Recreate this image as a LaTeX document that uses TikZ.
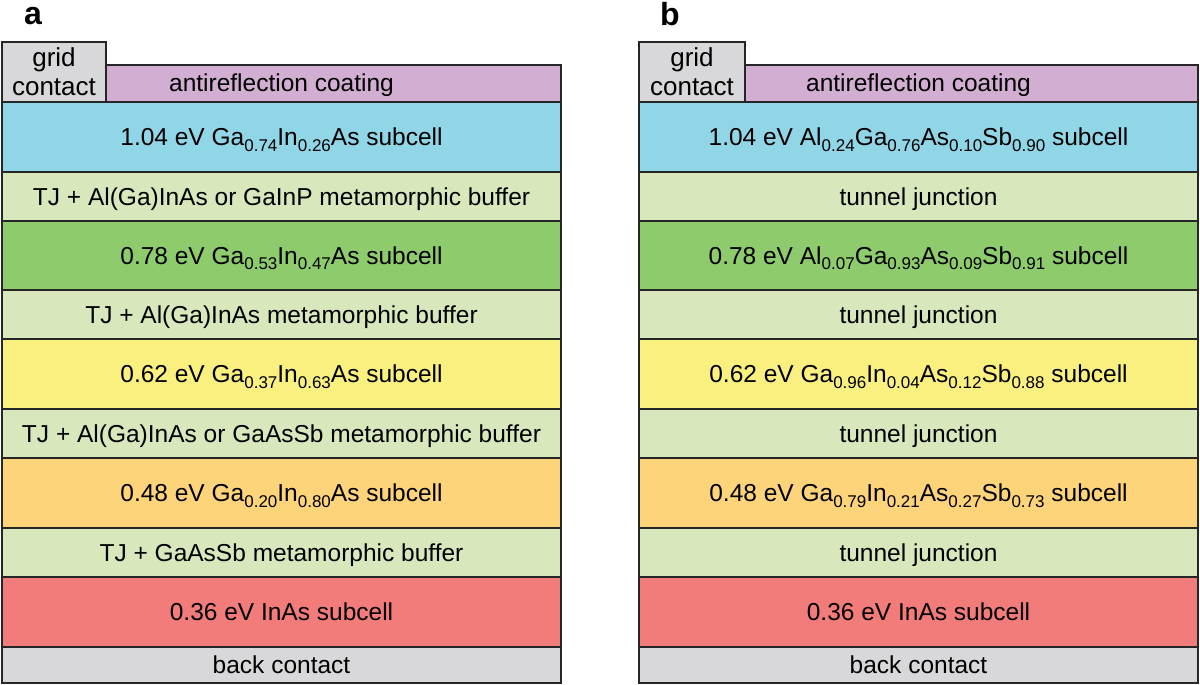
\documentclass[tikz,border=0pt]{standalone}
\usepackage{fontspec}
\setmainfont{Liberation Sans}

\definecolor{contactgray}{RGB}{216,216,218}
\definecolor{arcoat}{RGB}{211,174,211}
\definecolor{cellblue}{RGB}{145,214,230}
\definecolor{tjgreen}{RGB}{216,232,188}
\definecolor{cellgreen}{RGB}{142,203,108}
\definecolor{cellyellow}{RGB}{250,240,128}
\definecolor{cellorange}{RGB}{253,212,122}
\definecolor{cellred}{RGB}{242,124,121}

\newcommand{\low}[1]{\raisebox{-0.45ex}{\fontsize{17}{17}\selectfont #1}}

\begin{document}
\begin{tikzpicture}[x=1pt,y=-1pt,
    box/.style={draw=black!85, line width=1.3pt, inner sep=0pt},
    layertext/.style={inner sep=0pt, text height=22pt, text depth=5pt,
                  font=\fontsize{24.5}{27}\selectfont},
    layer/.style={box, layertext},
    gridbox/.style={box, align=center, font=\fontsize{26}{29}\selectfont},
    panel/.style={font=\fontsize{32}{32}\selectfont\bfseries}]
  \useasboundingbox (0,0) rectangle (1200,685);

  % panel a
  \node[panel] (la) at (33,16) {a};
  \foreach \top/\bot/\col/\txt [count=\i] in {
      102/172/cellblue/{1.04 eV Ga\low{0.74}In\low{0.26}As subcell},
      172/221/tjgreen/{TJ + Al(Ga)InAs or GaInP metamorphic\ buffer},
      221/290/cellgreen/{0.78 eV Ga\low{0.53}In\low{0.47}As subcell},
      290/339/tjgreen/{TJ + Al(Ga)InAs metamorphic\ buffer},
      339/409/cellyellow/{0.62 eV Ga\low{0.37}In\low{0.63}As subcell},
      409/458/tjgreen/{TJ + Al(Ga)InAs or GaAsSb metamorphic\ buffer},
      458/528/cellorange/{0.48 eV Ga\low{0.20}In\low{0.80}As subcell},
      528/577/tjgreen/{TJ + GaAsSb metamorphic\ buffer},
      577/647/cellred/{0.36 eV InAs subcell},
      647/683/contactgray/{back contact}}{
    \node[layer, fill=\col, minimum width=559, minimum height={\bot-\top}]
      (a\i) at (281.5,{(\top+\bot)/2}) {\txt};
  }
  \node[box, fill=arcoat, minimum width=455, minimum height=37]
    (aar) at (333.5,83.5) {};
  \node[layertext] (aartext) at (281.5,83.5) {antireflection coating};
  \node[gridbox, fill=contactgray, minimum width=104, minimum height=60]
    (agrid) at (54,72) {grid\\contact};

  % panel b
  \node[panel] (lb) at (670,14) {b};
  \foreach \top/\bot/\col/\txt [count=\i] in {
      102/172/cellblue/{1.04 eV Al\low{0.24}Ga\low{0.76}As\low{0.10}Sb\low{0.90} subcell},
      172/221/tjgreen/{tunnel\ junction},
      221/290/cellgreen/{0.78 eV Al\low{0.07}Ga\low{0.93}As\low{0.09}Sb\low{0.91} subcell},
      290/339/tjgreen/{tunnel\ junction},
      339/409/cellyellow/{0.62 eV Ga\low{0.96}In\low{0.04}As\low{0.12}Sb\low{0.88} subcell},
      409/458/tjgreen/{tunnel\ junction},
      458/528/cellorange/{0.48 eV Ga\low{0.79}In\low{0.21}As\low{0.27}Sb\low{0.73} subcell},
      528/577/tjgreen/{tunnel\ junction},
      577/647/cellred/{0.36 eV InAs subcell},
      647/683/contactgray/{back contact}}{
    \node[layer, fill=\col, minimum width=559, minimum height={\bot-\top}]
      (b\i) at (918.5,{(\top+\bot)/2}) {\txt};
  }
  \node[box, fill=arcoat, minimum width=453, minimum height=37]
    (bar) at (971.5,83.5) {};
  \node[layertext] (bartext) at (918.5,83.5) {antireflection coating};
  \node[gridbox, fill=contactgray, minimum width=106, minimum height=60]
    (bgrid) at (692,72) {grid\\contact};

\end{tikzpicture}
\end{document}
